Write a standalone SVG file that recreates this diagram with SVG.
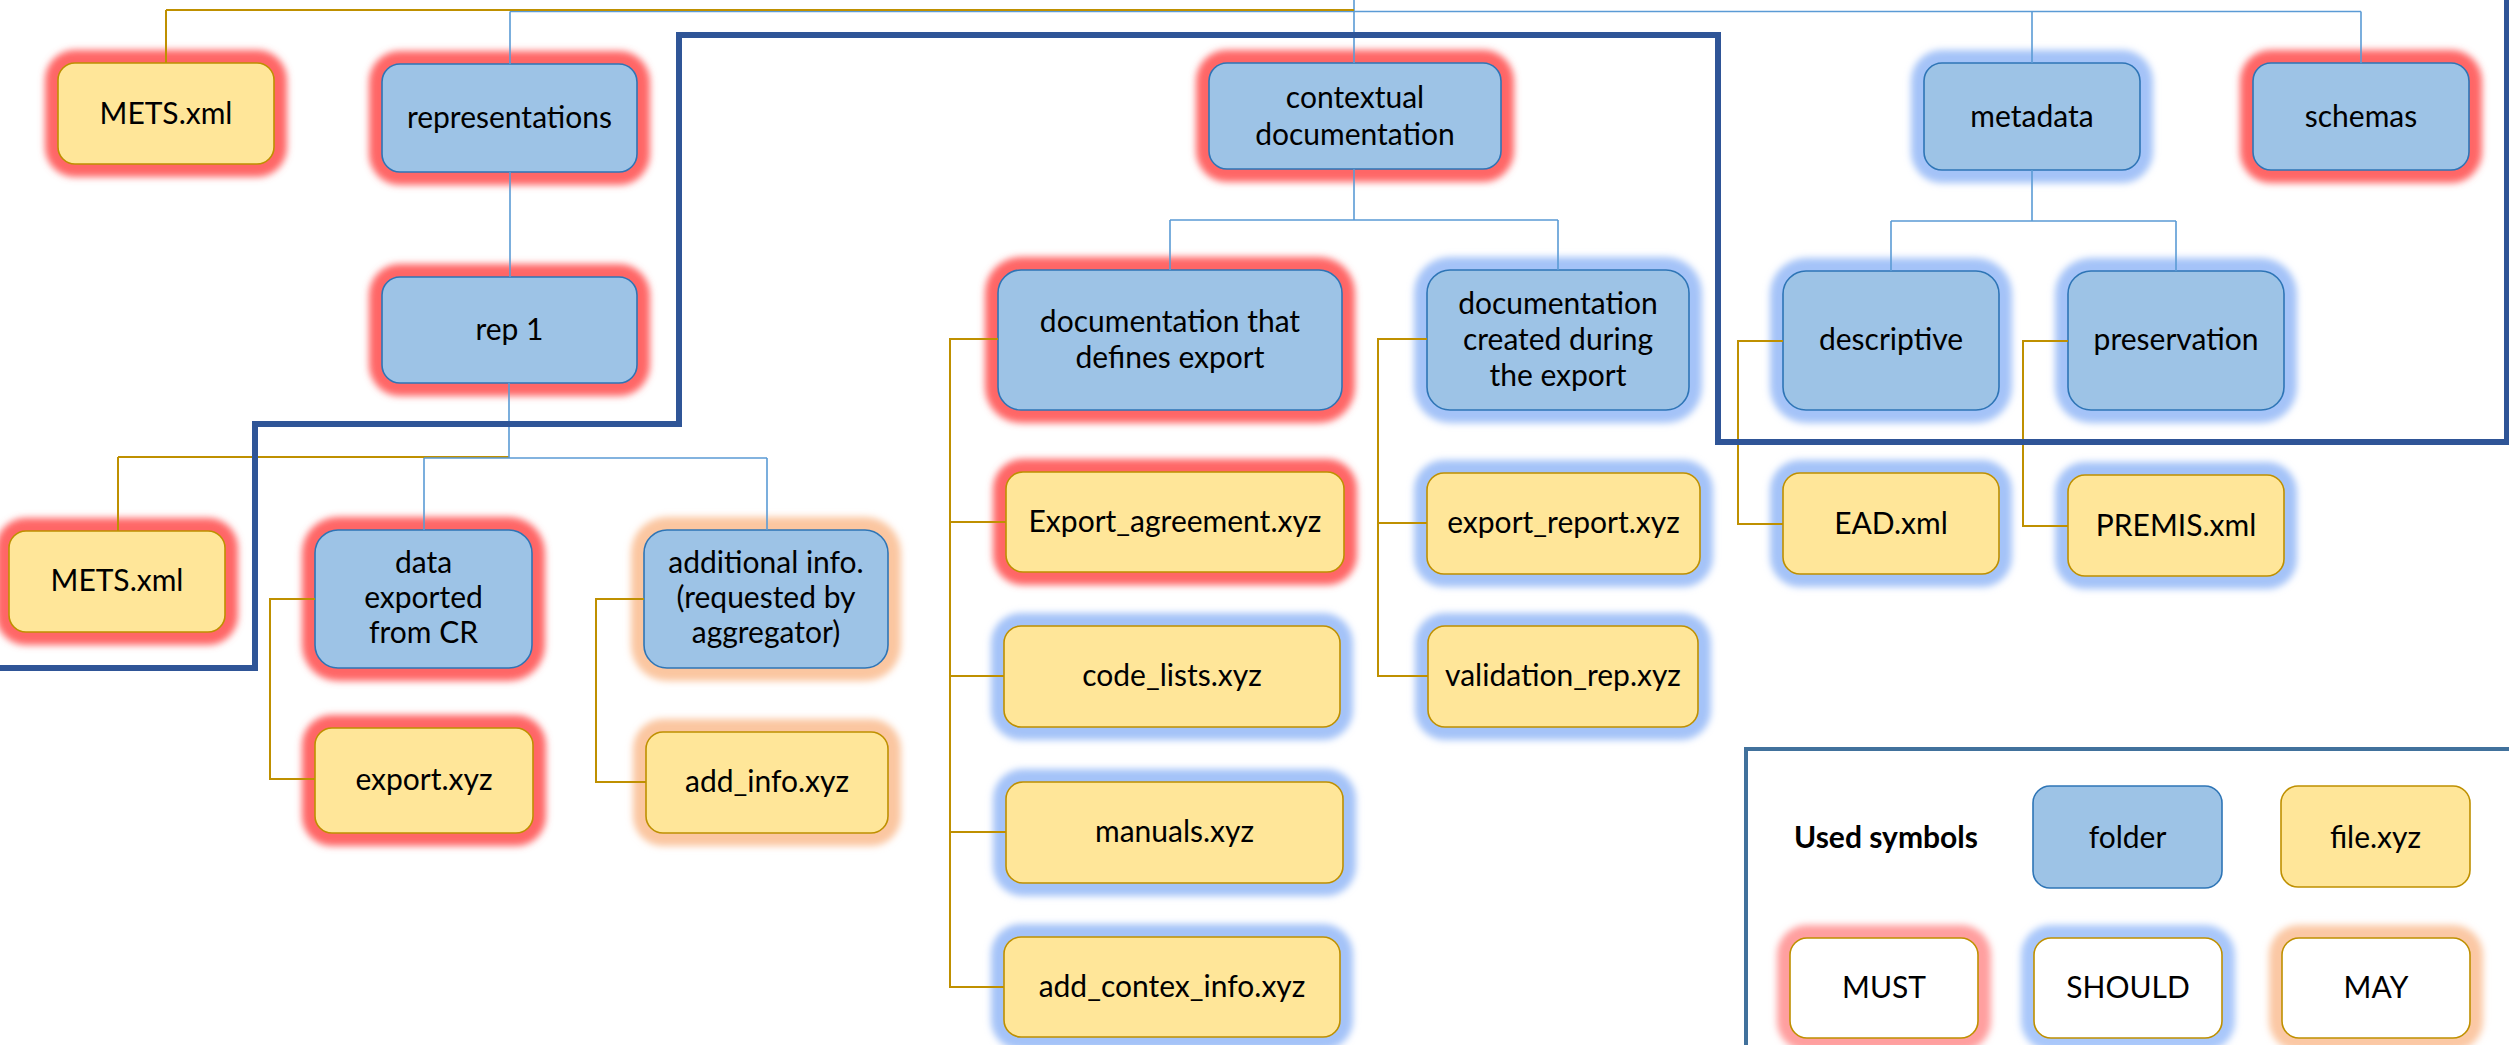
<svg xmlns="http://www.w3.org/2000/svg" width="2509" height="1045" viewBox="0 0 2509 1045">
  <defs>
    <filter id="halo-blur" x="-30%" y="-30%" width="160%" height="160%">
      <feGaussianBlur stdDeviation="3.5"/>
    </filter>
  </defs>
  <style>
    .folder { fill: #9DC3E6; stroke: #2E75B6; stroke-width: 1.6; }
    .file { fill: #FFE699; stroke: #BF9000; stroke-width: 1.6; }
    .blank { fill: #FFFFFF; stroke: #BF9000; stroke-width: 1.6; }
    .halo { filter: url(#halo-blur); }
    .must { fill: #FF6666; }
    .should { fill: #A4C3F8; }
    .may { fill: #FBC6A0; }
    .must-l { fill: #FF9F9F; }
    .should-l { fill: #A9C7FA; }
    .may-l { fill: #FBC8A4; }
    text { font-family: Lato, "Open Sans", "Liberation Sans", sans-serif; font-size: 30px; fill: #000000; text-anchor: middle; }
    .bold { font-weight: bold; }
    .c-gold { fill: none; stroke: #BF9000; stroke-width: 2; }
    .c-blue { fill: none; stroke: #5B9BD5; stroke-width: 1.6; }
    .frame { fill: none; stroke: #2F5597; stroke-width: 6; }
    .legend-frame { fill: #FFFFFF; stroke: #41719C; stroke-width: 4; }
  </style>

  <rect width="2509" height="1045" fill="#FFFFFF"/>

  <!-- top level -->
  <g id="mets-root">
    <rect class="halo must" x="45" y="50" width="242" height="127" rx="30"/>
    <rect class="file" x="58" y="63" width="216" height="101" rx="17"/>
    <text x="166" y="124">METS.xml</text>
  </g>
  <g id="representations">
    <rect class="halo must" x="369" y="51" width="281" height="134" rx="31"/>
    <rect class="folder" x="382" y="64" width="255" height="108" rx="18"/>
    <text x="509.5" y="128">representations</text>
  </g>
  <g id="contextual-documentation">
    <rect class="halo must" x="1196" y="50" width="318" height="132" rx="31"/>
    <rect class="folder" x="1209" y="63" width="292" height="106" rx="18"/>
    <text x="1355" y="108">contextual</text>
    <text x="1355" y="145">documentation</text>
  </g>
  <g id="metadata">
    <rect class="halo should" x="1911" y="50" width="242" height="133" rx="31"/>
    <rect class="folder" x="1924" y="63" width="216" height="107" rx="18"/>
    <text x="2032" y="127">metadata</text>
  </g>
  <g id="schemas">
    <rect class="halo must" x="2240" y="50" width="242" height="133" rx="31"/>
    <rect class="folder" x="2253" y="63" width="216" height="107" rx="18"/>
    <text x="2361" y="127">schemas</text>
  </g>

  <!-- second level -->
  <g id="rep-1">
    <rect class="halo must" x="369" y="264" width="281" height="132" rx="31"/>
    <rect class="folder" x="382" y="277" width="255" height="106" rx="18"/>
    <text x="509.5" y="340">rep 1</text>
  </g>
  <g id="documentation-defines-export">
    <rect class="halo must" x="985" y="257" width="370" height="166" rx="36"/>
    <rect class="folder" x="998" y="270" width="344" height="140" rx="23"/>
    <text x="1170" y="332">documentation that</text>
    <text x="1170" y="368">defines export</text>
  </g>
  <g id="documentation-created-during-export">
    <rect class="halo should" x="1414" y="257" width="288" height="166" rx="36"/>
    <rect class="folder" x="1427" y="270" width="262" height="140" rx="23"/>
    <text x="1558" y="314">documentation</text>
    <text x="1558" y="350">created during</text>
    <text x="1558" y="386">the export</text>
  </g>
  <g id="descriptive">
    <rect class="halo should" x="1770" y="258" width="242" height="165" rx="36"/>
    <rect class="folder" x="1783" y="271" width="216" height="139" rx="23"/>
    <text x="1891" y="350">descriptive</text>
  </g>
  <g id="preservation">
    <rect class="halo should" x="2055" y="258" width="242" height="165" rx="36"/>
    <rect class="folder" x="2068" y="271" width="216" height="139" rx="23"/>
    <text x="2176" y="350">preservation</text>
  </g>

  <!-- contents of rep 1 -->
  <g id="mets-rep">
    <rect class="halo must" x="-4" y="518" width="242" height="127" rx="30"/>
    <rect class="file" x="9" y="531" width="216" height="101" rx="17"/>
    <text x="117" y="591">METS.xml</text>
  </g>
  <g id="data-exported">
    <rect class="halo must" x="302" y="517" width="243" height="164" rx="36"/>
    <rect class="folder" x="315" y="530" width="217" height="138" rx="23"/>
    <text x="423.5" y="573">data</text>
    <text x="423.5" y="608">exported</text>
    <text x="423.5" y="643">from CR</text>
  </g>
  <g id="additional-info">
    <rect class="halo may" x="631" y="517" width="270" height="164" rx="36"/>
    <rect class="folder" x="644" y="530" width="244" height="138" rx="23"/>
    <text x="766" y="573">additional info.</text>
    <text x="766" y="608">(requested by</text>
    <text x="766" y="643">aggregator)</text>
  </g>
  <g id="export-xyz">
    <rect class="halo must" x="302" y="715" width="244" height="131" rx="30"/>
    <rect class="file" x="315" y="728" width="218" height="105" rx="17"/>
    <text x="424" y="790">export.xyz</text>
  </g>
  <g id="add-info-xyz">
    <rect class="halo may" x="633" y="719" width="268" height="127" rx="30"/>
    <rect class="file" x="646" y="732" width="242" height="101" rx="17"/>
    <text x="767" y="792">add_info.xyz</text>
  </g>

  <!-- contents of contextual documentation -->
  <g id="export-agreement">
    <rect class="halo must" x="993" y="459" width="364" height="126" rx="30"/>
    <rect class="file" x="1006" y="472" width="338" height="100" rx="17"/>
    <text x="1175" y="532">Export_agreement.xyz</text>
  </g>
  <g id="code-lists">
    <rect class="halo should" x="991" y="613" width="362" height="127" rx="30"/>
    <rect class="file" x="1004" y="626" width="336" height="101" rx="17"/>
    <text x="1172" y="686">code_lists.xyz</text>
  </g>
  <g id="manuals">
    <rect class="halo should" x="993" y="769" width="363" height="127" rx="30"/>
    <rect class="file" x="1006" y="782" width="337" height="101" rx="17"/>
    <text x="1174.5" y="842">manuals.xyz</text>
  </g>
  <g id="add-contex-info">
    <rect class="halo should" x="991" y="924" width="362" height="126" rx="30"/>
    <rect class="file" x="1004" y="937" width="336" height="100" rx="17"/>
    <text x="1172" y="997">add_contex_info.xyz</text>
  </g>
  <g id="export-report">
    <rect class="halo should" x="1414" y="460" width="299" height="127" rx="30"/>
    <rect class="file" x="1427" y="473" width="273" height="101" rx="17"/>
    <text x="1563.5" y="533">export_report.xyz</text>
  </g>
  <g id="validation-rep">
    <rect class="halo should" x="1415" y="613" width="296" height="127" rx="30"/>
    <rect class="file" x="1428" y="626" width="270" height="101" rx="17"/>
    <text x="1563" y="686">validation_rep.xyz</text>
  </g>

  <!-- contents of metadata -->
  <g id="ead-xml">
    <rect class="halo should" x="1770" y="460" width="242" height="127" rx="30"/>
    <rect class="file" x="1783" y="473" width="216" height="101" rx="17"/>
    <text x="1891" y="534">EAD.xml</text>
  </g>
  <g id="premis-xml">
    <rect class="halo should" x="2055" y="462" width="242" height="127" rx="30"/>
    <rect class="file" x="2068" y="475" width="216" height="101" rx="17"/>
    <text x="2176" y="536">PREMIS.xml</text>
  </g>

  <!-- connectors -->
  <g id="connectors">
    <path class="c-blue" d="M510,11.5 H2361 M510,11.5 V64 M1354,0 V63 M2032,11.5 V63 M2361,11.5 V63"/>
    <path class="c-gold" d="M166,10 H1354 M166,10 V63"/>
    <path class="c-blue" d="M510,172 V277"/>
    <path class="c-gold" d="M118,457 H509 M118,457 V531"/>
    <path class="c-blue" d="M509,383 V458 M424,458 H767 M424,458 V530 M767,458 V530"/>
    <path class="c-gold" d="M315,599 H270 V779 H315"/>
    <path class="c-gold" d="M644,599 H596 V782 H646"/>
    <path class="c-blue" d="M1354,169 V220 M1170,220 H1558 M1170,220 V270 M1558,220 V270"/>
    <path class="c-gold" d="M998,339 H950 V987 H1004 M950,522 H1006 M950,676 H1004 M950,832 H1006"/>
    <path class="c-gold" d="M1427,339 H1378 V676 H1428 M1378,523 H1427"/>
    <path class="c-blue" d="M2032,170 V221 M1891,221 H2176 M1891,221 V271 M2176,221 V271"/>
    <path class="c-gold" d="M1783,341 H1738 V524 H1783"/>
    <path class="c-gold" d="M2068,341 H2023 V526 H2068"/>
  </g>

  <!-- boundary of the package structure -->
  <path id="package-boundary" class="frame" d="M0,668 H255 V424 H679 V35 H1718 V442 H2507 V0"/>

  <!-- key -->
  <g id="legend">
    <rect class="legend-frame" x="1746" y="749" width="780" height="320"/>
    <text class="bold" x="1886" y="848">Used symbols</text>
    <g id="legend-folder">
      <rect class="folder" x="2033" y="786" width="189" height="102" rx="17"/>
      <text x="2127.5" y="848">folder</text>
    </g>
    <g id="legend-file">
      <rect class="file" x="2281" y="786" width="189" height="101" rx="17"/>
      <text x="2375.5" y="848">file.xyz</text>
    </g>
    <g id="legend-must">
      <rect class="halo must-l" x="1777" y="925" width="214" height="126" rx="30"/>
      <rect class="blank" x="1790" y="938" width="188" height="100" rx="17"/>
      <text x="1884" y="998">MUST</text>
    </g>
    <g id="legend-should">
      <rect class="halo should-l" x="2021" y="925" width="214" height="126" rx="30"/>
      <rect class="blank" x="2034" y="938" width="188" height="100" rx="17"/>
      <text x="2128" y="998">SHOULD</text>
    </g>
    <g id="legend-may">
      <rect class="halo may-l" x="2269" y="925" width="214" height="126" rx="30"/>
      <rect class="blank" x="2282" y="938" width="188" height="100" rx="17"/>
      <text x="2376" y="998">MAY</text>
    </g>
  </g>
</svg>
